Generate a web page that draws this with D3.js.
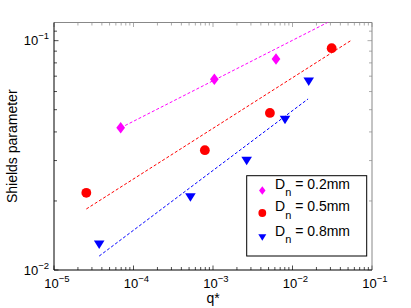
<!DOCTYPE html>
<html>
<head>
<meta charset="UTF-8">
<script src="https://d3js.org/d3.v7.min.js"></script>
<style>
  body { margin: 0; background: #fff; }
  text { font-family: "Liberation Sans", Arial, sans-serif; fill: #000; }
</style>
</head>
<body>
<svg width="411" height="308"></svg>
<script>
// data
const q02 = [6.9e-5, 1.04e-3, 6.2e-3];
const sh02 = [0.0417, 0.0679, 0.0832];
const q05 = [2.55e-5, 7.9e-4, 5.2e-3, 0.0311];
const sh05 = [0.0217, 0.0333, 0.0484, 0.0927];
const q08 = [3.7e-5, 5.2e-4, 2.65e-3, 8.05e-3, 0.016];
const sh08 = [0.0129, 0.0207, 0.0299, 0.0451, 0.0662];

// dashed fit lines (end points)
const fit02q = [6.9e-5, 0.031], fit02sh = [0.0417, 0.1225];
const fit05q = [2.55e-5, 0.054], fit05sh = [0.01845, 0.1];
const fit08q = [3.7e-5, 0.0157], fit08sh = [0.0115, 0.0557];

const xDecades = [-5, -4, -3, -2, -1];
const yDecades = [-2, -1];
const legendLabels = ["0.2mm", "0.5mm", "0.8mm"];

const margin = {left: 54, right: 39, top: 22.5, bottom: 38};
const W = 411, H = 308;
const x = d3.scaleLog().domain([1e-5, 1e-1]).range([margin.left, W - margin.right]);
const y = d3.scaleLog().domain([0.01, 0.12]).range([H - margin.bottom, margin.top]);

const svg = d3.select("svg");
svg.append("defs").append("clipPath").attr("id", "clip")
  .append("rect").attr("x", x.range()[0]).attr("y", y.range()[1])
  .attr("width", x.range()[1] - x.range()[0]).attr("height", y.range()[0] - y.range()[1]);

const x0 = x.range()[0], x1 = x.range()[1], yb = y.range()[0], yt = y.range()[1];

// ticks (minor + major), inside, all four sides
const xt = [];
for (let e = -5; e < -1; e++) for (let m = 1; m < 10; m++) xt.push(m * Math.pow(10, e));
xt.push(0.1);
const yt2 = [];
for (let m = 1; m <= 12; m++) yt2.push(m * 0.01);

const tk = svg.append("g");
xt.forEach(v => {
  const major = Math.abs(Math.log10(v) - Math.round(Math.log10(v))) < 1e-9;
  const L = major ? 4.5 : 3;
  tk.append("line").attr("x1", x(v)).attr("x2", x(v)).attr("y1", yb).attr("y2", yb - L).attr("stroke", "#000").attr("stroke-width", 0.7);
  tk.append("line").attr("x1", x(v)).attr("x2", x(v)).attr("y1", yt).attr("y2", yt + L).attr("stroke", "#888").attr("stroke-width", 0.7);
});
yt2.forEach(v => {
  const major = Math.abs(Math.log10(v) - Math.round(Math.log10(v))) < 1e-9;
  const L = major ? 4.5 : 3;
  tk.append("line").attr("y1", y(v)).attr("y2", y(v)).attr("x1", x0).attr("x2", x0 + L).attr("stroke", "#000").attr("stroke-width", 0.7);
  tk.append("line").attr("y1", y(v)).attr("y2", y(v)).attr("x1", x1).attr("x2", x1 - L).attr("stroke", "#888").attr("stroke-width", 0.7);
});

// frame
svg.append("line").attr("x1", x0).attr("x2", x1).attr("y1", yt).attr("y2", yt).attr("stroke", "#888").attr("stroke-width", 1);
svg.append("line").attr("x1", x1).attr("x2", x1).attr("y1", yt).attr("y2", yb).attr("stroke", "#888").attr("stroke-width", 1);
svg.append("line").attr("x1", x0).attr("x2", x1).attr("y1", yb).attr("y2", yb).attr("stroke", "#000").attr("stroke-width", 1);
svg.append("line").attr("x1", x0).attr("x2", x0).attr("y1", yt).attr("y2", yb).attr("stroke", "#000").attr("stroke-width", 1);

// tick labels
function powLabel(g, tx, ty, exp, anchor) {
  const t = g.append("text").attr("x", tx).attr("y", ty).attr("text-anchor", anchor).style("font-size", "13px");
  t.append("tspan").text("10");
  t.append("tspan").attr("dy", -6).style("font-size", "9.5px").text("\u2212" + Math.abs(exp));
}
xDecades.forEach(e => powLabel(svg, x(Math.pow(10, e)) + 3, 288, e, "middle"));
yDecades.forEach(e => powLabel(svg, 49, y(Math.pow(10, e)) + 4.5, e, "end"));

svg.append("text").attr("x", x(1e-3)).attr("y", 302.5).attr("text-anchor", "middle")
  .style("font-size", "14px").text("q*");
svg.append("text").attr("transform", `translate(17,${(yt + yb) / 2}) rotate(-90)`)
  .attr("text-anchor", "middle").style("font-size", "14px").text("Shields parameter");

// dashed fits
const line = d3.line().x(d => x(d[0])).y(d => y(d[1]));
const plot = svg.append("g").attr("clip-path", "url(#clip)");
[[fit02q, fit02sh, "#ff00ff"], [fit05q, fit05sh, "#ff0000"], [fit08q, fit08sh, "#0000ff"]].forEach(([qs, ss, c]) => {
  plot.append("path").attr("d", line(qs.map((v, i) => [v, ss[i]])))
    .attr("fill", "none").attr("stroke", c).attr("stroke-width", 1).attr("stroke-dasharray", "3,2");
});

// markers
function diamond(s) { return `M0,${-s}L${s * 0.75},0L0,${s}L${-s * 0.75},0Z`; }
function tri(s) { return `M${-s},${-s * 0.8}L${s},${-s * 0.8}L0,${s * 0.8}Z`; }

q02.forEach((v, i) => plot.append("path").attr("d", diamond(5.8))
  .attr("transform", `translate(${x(v)},${y(sh02[i])})`).attr("fill", "#ff00ff"));
q05.forEach((v, i) => plot.append("circle").attr("cx", x(v)).attr("cy", y(sh05[i])).attr("r", 4.9).attr("fill", "#ff0000"));
q08.forEach((v, i) => plot.append("path").attr("d", tri(5.3))
  .attr("transform", `translate(${x(v)},${y(sh08[i])})`).attr("fill", "#0000ff"));

// legend
const lg = svg.append("g");
lg.append("rect").attr("x", 246.7).attr("y", 175.7).attr("width", 120).attr("height", 80.3)
  .attr("fill", "#fff").attr("stroke", "#000").attr("stroke-width", 1);
const rowsY = [190.5, 213, 237.5];
lg.append("path").attr("d", diamond(4.3)).attr("transform", `translate(262.3,${rowsY[0]})`).attr("fill", "#ff00ff");
lg.append("circle").attr("cx", 262.3).attr("cy", rowsY[1]).attr("r", 3.9).attr("fill", "#ff0000");
lg.append("path").attr("d", tri(4)).attr("transform", `translate(262.3,${rowsY[2]})`).attr("fill", "#0000ff");
legendLabels.forEach((lab, i) => {
  const t = lg.append("text").attr("x", 275).attr("y", rowsY[i] - 2).style("font-size", "14px");
  t.append("tspan").text("D");
  t.append("tspan").attr("dy", 7.5).style("font-size", "11px").text("n");
  t.append("tspan").attr("dy", -7.5).text(" = " + lab);
});
</script>
</body>
</html>
